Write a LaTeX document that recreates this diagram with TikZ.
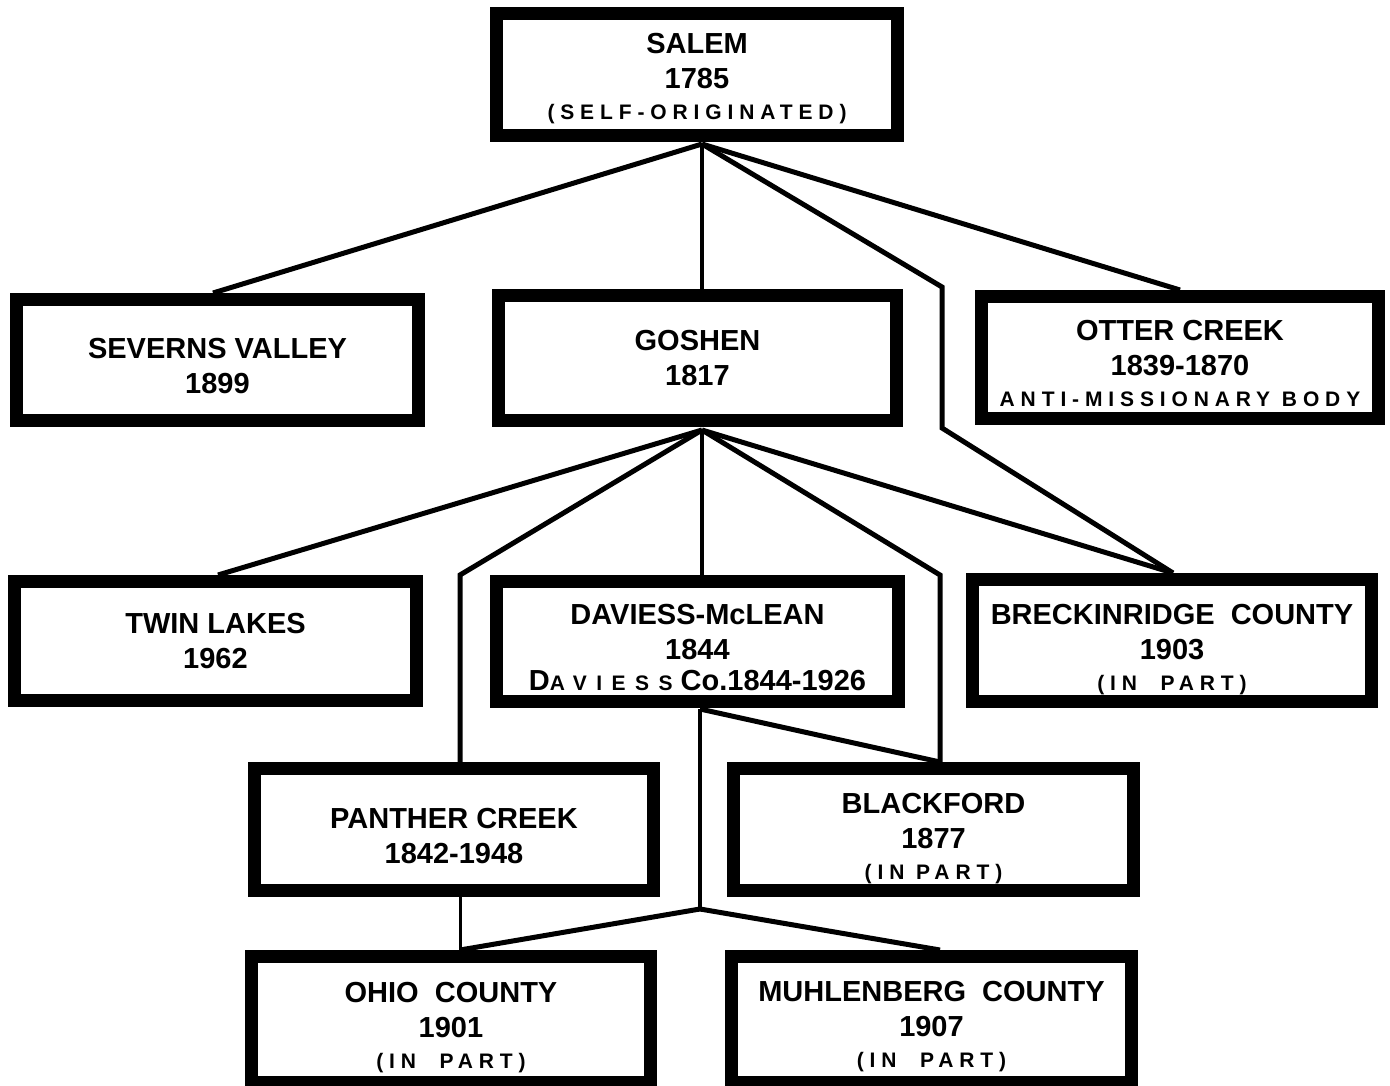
\documentclass[tikz,border=0pt]{standalone}
\usepackage{fontspec}
\setmainfont{Liberation Sans}
\newfontfamily\spacedfam{Liberation Sans}[LetterSpace=28]
\newfontfamily\widefam{Liberation Sans}[LetterSpace=45]
\usetikzlibrary{calc,backgrounds}
\newcommand\bigf{\bfseries\fontsize{29}{35}\selectfont}
\newcommand\lblsmall{\spacedfam\bfseries\fontsize{21}{30}\selectfont}
\newcommand\lblwide{\widefam\bfseries\fontsize{21}{30}\selectfont}
% strut that pushes the text block down by #1 pt
\newcommand\pushdown[1]{\rule{0pt}{\dimexpr 20pt+#1pt+#1pt\relax}}
\begin{document}
\begin{tikzpicture}[x=1pt,y=-1pt,
  box/.style={draw, line width=13pt, fill=white, inner sep=0pt, align=center, font=\bigf},
  link/.style={line width=5pt, line join=miter}]
\useasboundingbox (0,0) rectangle (1390,1086);

% boxes
\node[box, minimum width=401pt, minimum height=122pt] (salem) at (697,74.5)
  {\pushdown{4}SALEM\\1785\\[-4pt]{\lblsmall (SELF-ORIGINATED)}};
\node[box, minimum width=402pt, minimum height=121pt] (severns) at (217.5,360)
  {\pushdown{6}SEVERNS VALLEY\\1899};
\node[box, minimum width=398pt, minimum height=125pt] (goshen) at (697.5,358)
  {GOSHEN\\1817};
\node[box, minimum width=397pt, minimum height=122pt] (otter) at (1180,357.5)
  {\pushdown{6}OTTER CREEK\\1839-1870\\[-4pt]{\lblsmall ANTI-MISSIONARY BODY}};
\node[box, minimum width=402pt, minimum height=119pt] (twin) at (215.5,641)
  {TWIN LAKES\\1962};
\node[box, minimum width=402pt, minimum height=120pt] (daviess) at (697.5,641.5)
  {\pushdown{6}DAVIESS-McLEAN\\1844\\[-4pt]D{\lblwide AVIESS}\ Co.1844-1926};
\node[box, minimum width=399pt, minimum height=122pt] (breck) at (1172,640.5)
  {\pushdown{9}BRECKINRIDGE\ \ COUNTY\\1903\\[-4pt]{\lblsmall (IN\ \ PART)}};
\node[box, minimum width=399pt, minimum height=122pt] (panther) at (454,829.5)
  {\pushdown{7}PANTHER CREEK\\1842-1948};
\node[box, minimum width=400pt, minimum height=122pt] (blackford) at (933.5,829.5)
  {\pushdown{9}BLACKFORD\\1877\\[-4pt]{\lblsmall (IN PART)}};
\node[box, minimum width=399pt, minimum height=126pt] (ohio) at (451,1019.5)
  {\pushdown{8}OHIO\ \ COUNTY\\1901\\[-4pt]{\lblsmall (IN\ \ PART)}};
\node[box, minimum width=400pt, minimum height=126pt] (muhl) at (931.5,1019.5)
  {\pushdown{7}MUHLENBERG\ \ COUNTY\\1907\\[-4pt]{\lblsmall (IN\ \ PART)}};

% junction points
\coordinate (h1) at (702,144);
\coordinate (b1) at (942,287);
\coordinate (b2) at (942,428);
\coordinate (h2) at (702,430);
\coordinate (p1) at (460,575);
\coordinate (q1) at (940,575);
\coordinate (h3) at (700,709);
\coordinate (h4) at (700,909);

\begin{pgfonlayer}{background}
\fill[white] (0,0) rectangle (1390,1086);
\draw[link] (h1) -- ($(severns.north)+(-4.5,0)$);
\draw[link, line width=4pt] (h1) -- (h1 |- goshen.north);
\draw[link] (h1) -- (otter.north);
\draw[link] (h1) -- (b1) -- (b2) -- ($(breck.north)+(1,0)$);
\draw[link] (h2) -- ($(twin.north)+(2.5,0)$);
\draw[link] (h2) -- (p1) -- (p1 |- panther.north);
\draw[link, line width=4pt] (h2) -- (h2 |- daviess.north);
\draw[link] (h2) -- (q1) -- (q1 |- blackford.north);
\draw[link] (h2) -- ($(breck.north)+(1,0)$);
\draw[link] (h3) -- (q1 |- blackford.north);
\draw[link, line width=4pt] (h3) -- (h4);
\draw[link] (h4) -- (p1 |- ohio.north);
\draw[link] (h4) -- (q1 |- muhl.north);
\draw[link, line width=3pt] (p1 |- panther.south) -- (p1 |- ohio.north);
\end{pgfonlayer}
\end{tikzpicture}
\end{document}
